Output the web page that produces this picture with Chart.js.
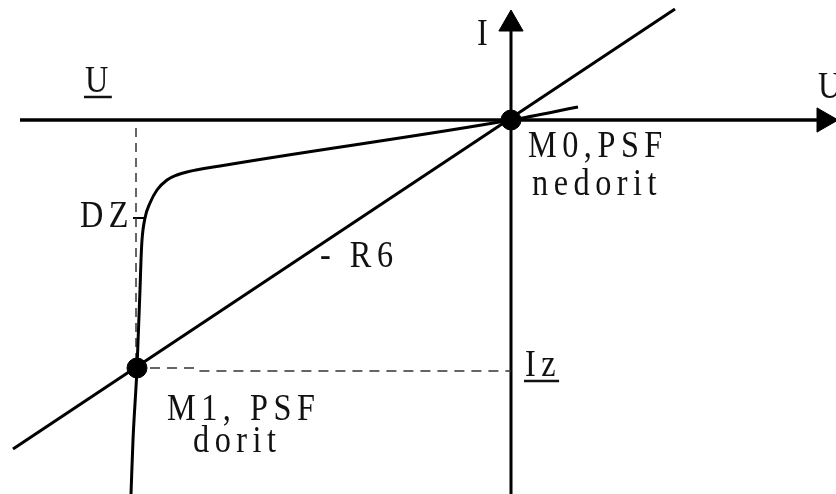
<!DOCTYPE html>
<html>
<head>
<meta charset="utf-8">
<script src="https://cdn.jsdelivr.net/npm/chart.js@4.4.1/dist/chart.umd.min.js"></script>
<style>
  html, body { margin: 0; padding: 0; background: #fff; }
  #wrap { width: 836px; height: 494px; position: relative; }
</style>
</head>
<body>
<div id="wrap"><canvas id="diode-chart"></canvas></div>
<script>
// coordinates: U to the right, I upwards, origin at the working point M0
const uAxisU = [-491, 320];
const uAxisI = [0, 0];
const iAxisU = [0, 0];
const iAxisI = [-380, 96];

// load line (-R6)
const loadU = [-498, 164];
const loadI = [-329, 111];

// Zener diode characteristic
const curveU = [-380, -378, -374, -371, -370, -369, -366, -361, -354, -344, -334, -324, -291, 0, 67];
const curveI = [-374, -320, -248, -170, -140, -120, -98, -83, -70, -60, -55, -52, -46, 0, 13];

// dashed guides
const guideVU = [-375, -375];
const guideVI = [-8, -248];
const guideHU = [-361, -314, -312, 0];
const guideHI = [-248, -248, -251, -251];
const dzTickU = [-378, -367];
const dzTickI = [-98, -98];

// working points
const pointNames = ['M0', 'M1'];
const pointU = [0, -374];
const pointI = [0, -248];

// labels
const labelTexts = ['I', 'U', 'U', 'M0,PSF', 'nedorit', 'DZ', '- R6', 'Iz', 'M1, PSF', 'dorit'];
const labelU = [-34, -426, 307, 17, 21, -431, -191, 14, -344, -318];
const labelI = [75, 28, 22, -37, -75, -107, -147, -256, -300, -332];
const underlined = [false, true, false, false, false, false, false, true, false, false];

const zip = (xs, ys) => xs.map((x, i) => ({ x, y: ys[i] }));

const line = (xs, ys, extra) => Object.assign({
  data: zip(xs, ys),
  showLine: true,
  borderColor: '#000',
  borderWidth: 3,
  pointRadius: 0,
  clip: false
}, extra);

const labelPlugin = {
  id: 'labels',
  afterDatasetsDraw(chart) {
    const { ctx, scales } = chart;
    ctx.save();
    ctx.fillStyle = '#111';
    ctx.strokeStyle = '#111';
    ctx.font = '38px "Liberation Serif", serif';
    ctx.textBaseline = 'alphabetic';
    ctx.textAlign = 'left';
    const sx = 0.85;
    labelTexts.forEach((t, i) => {
      const x = scales.x.getPixelForValue(labelU[i]);
      const y = scales.y.getPixelForValue(labelI[i]);
      ctx.save();
      ctx.translate(x, y);
      ctx.scale(sx, 1);
      ctx.letterSpacing = (5.5 / sx) + 'px';
      ctx.fillText(t, 0, 0);
      const w = (ctx.measureText(t).width) * sx;
      ctx.restore();
      if (underlined[i]) {
        ctx.lineWidth = 2.5;
        ctx.beginPath();
        ctx.moveTo(x - 1, y + 5);
        ctx.lineTo(x + w - 2, y + 5);
        ctx.stroke();
      }
    });
    ctx.restore();
  }
};

const ctx = document.getElementById('diode-chart');

new Chart(ctx, {
  type: 'scatter',
  data: {
    datasets: [
      {
        data: zip(pointU, pointI),
        pointRadius: 10,
        pointBackgroundColor: '#000',
        pointBorderColor: '#000',
        clip: false
      },
      {
        // arrow heads
        data: [{ x: 0, y: 96 }, { x: 313, y: 0 }],
        pointStyle: 'triangle',
        pointRadius: 14,
        rotation: [0, 90],
        pointBackgroundColor: '#000',
        pointBorderColor: '#000',
        pointBorderWidth: 1,
        clip: false
      },
      line(loadU, loadI),
      line(curveU, curveI, { cubicInterpolationMode: 'monotone', borderWidth: 3 }),
      line(guideVU, guideVI, { borderWidth: 1.5, borderColor: '#333', borderDash: [9, 6] }),
      line(guideHU, guideHI, { borderWidth: 1.5, borderColor: '#333', borderDash: [10, 7] }),
      line(dzTickU, dzTickI, { borderWidth: 2 }),
      line(uAxisU, uAxisI, { borderWidth: 3.5 }),
      line(iAxisU, iAxisI, { borderWidth: 3 })
    ]
  },
  options: {
    responsive: true,
    maintainAspectRatio: false,
    animation: false,
    layout: { padding: 0, autoPadding: false },
    scales: {
      x: { type: 'linear', min: -511, max: 325, display: false },
      y: { type: 'linear', min: -374, max: 120, display: false }
    },
    plugins: {
      legend: { display: false },
      tooltip: { enabled: false }
    }
  },
  plugins: [labelPlugin]
});
</script>
</body>
</html>
